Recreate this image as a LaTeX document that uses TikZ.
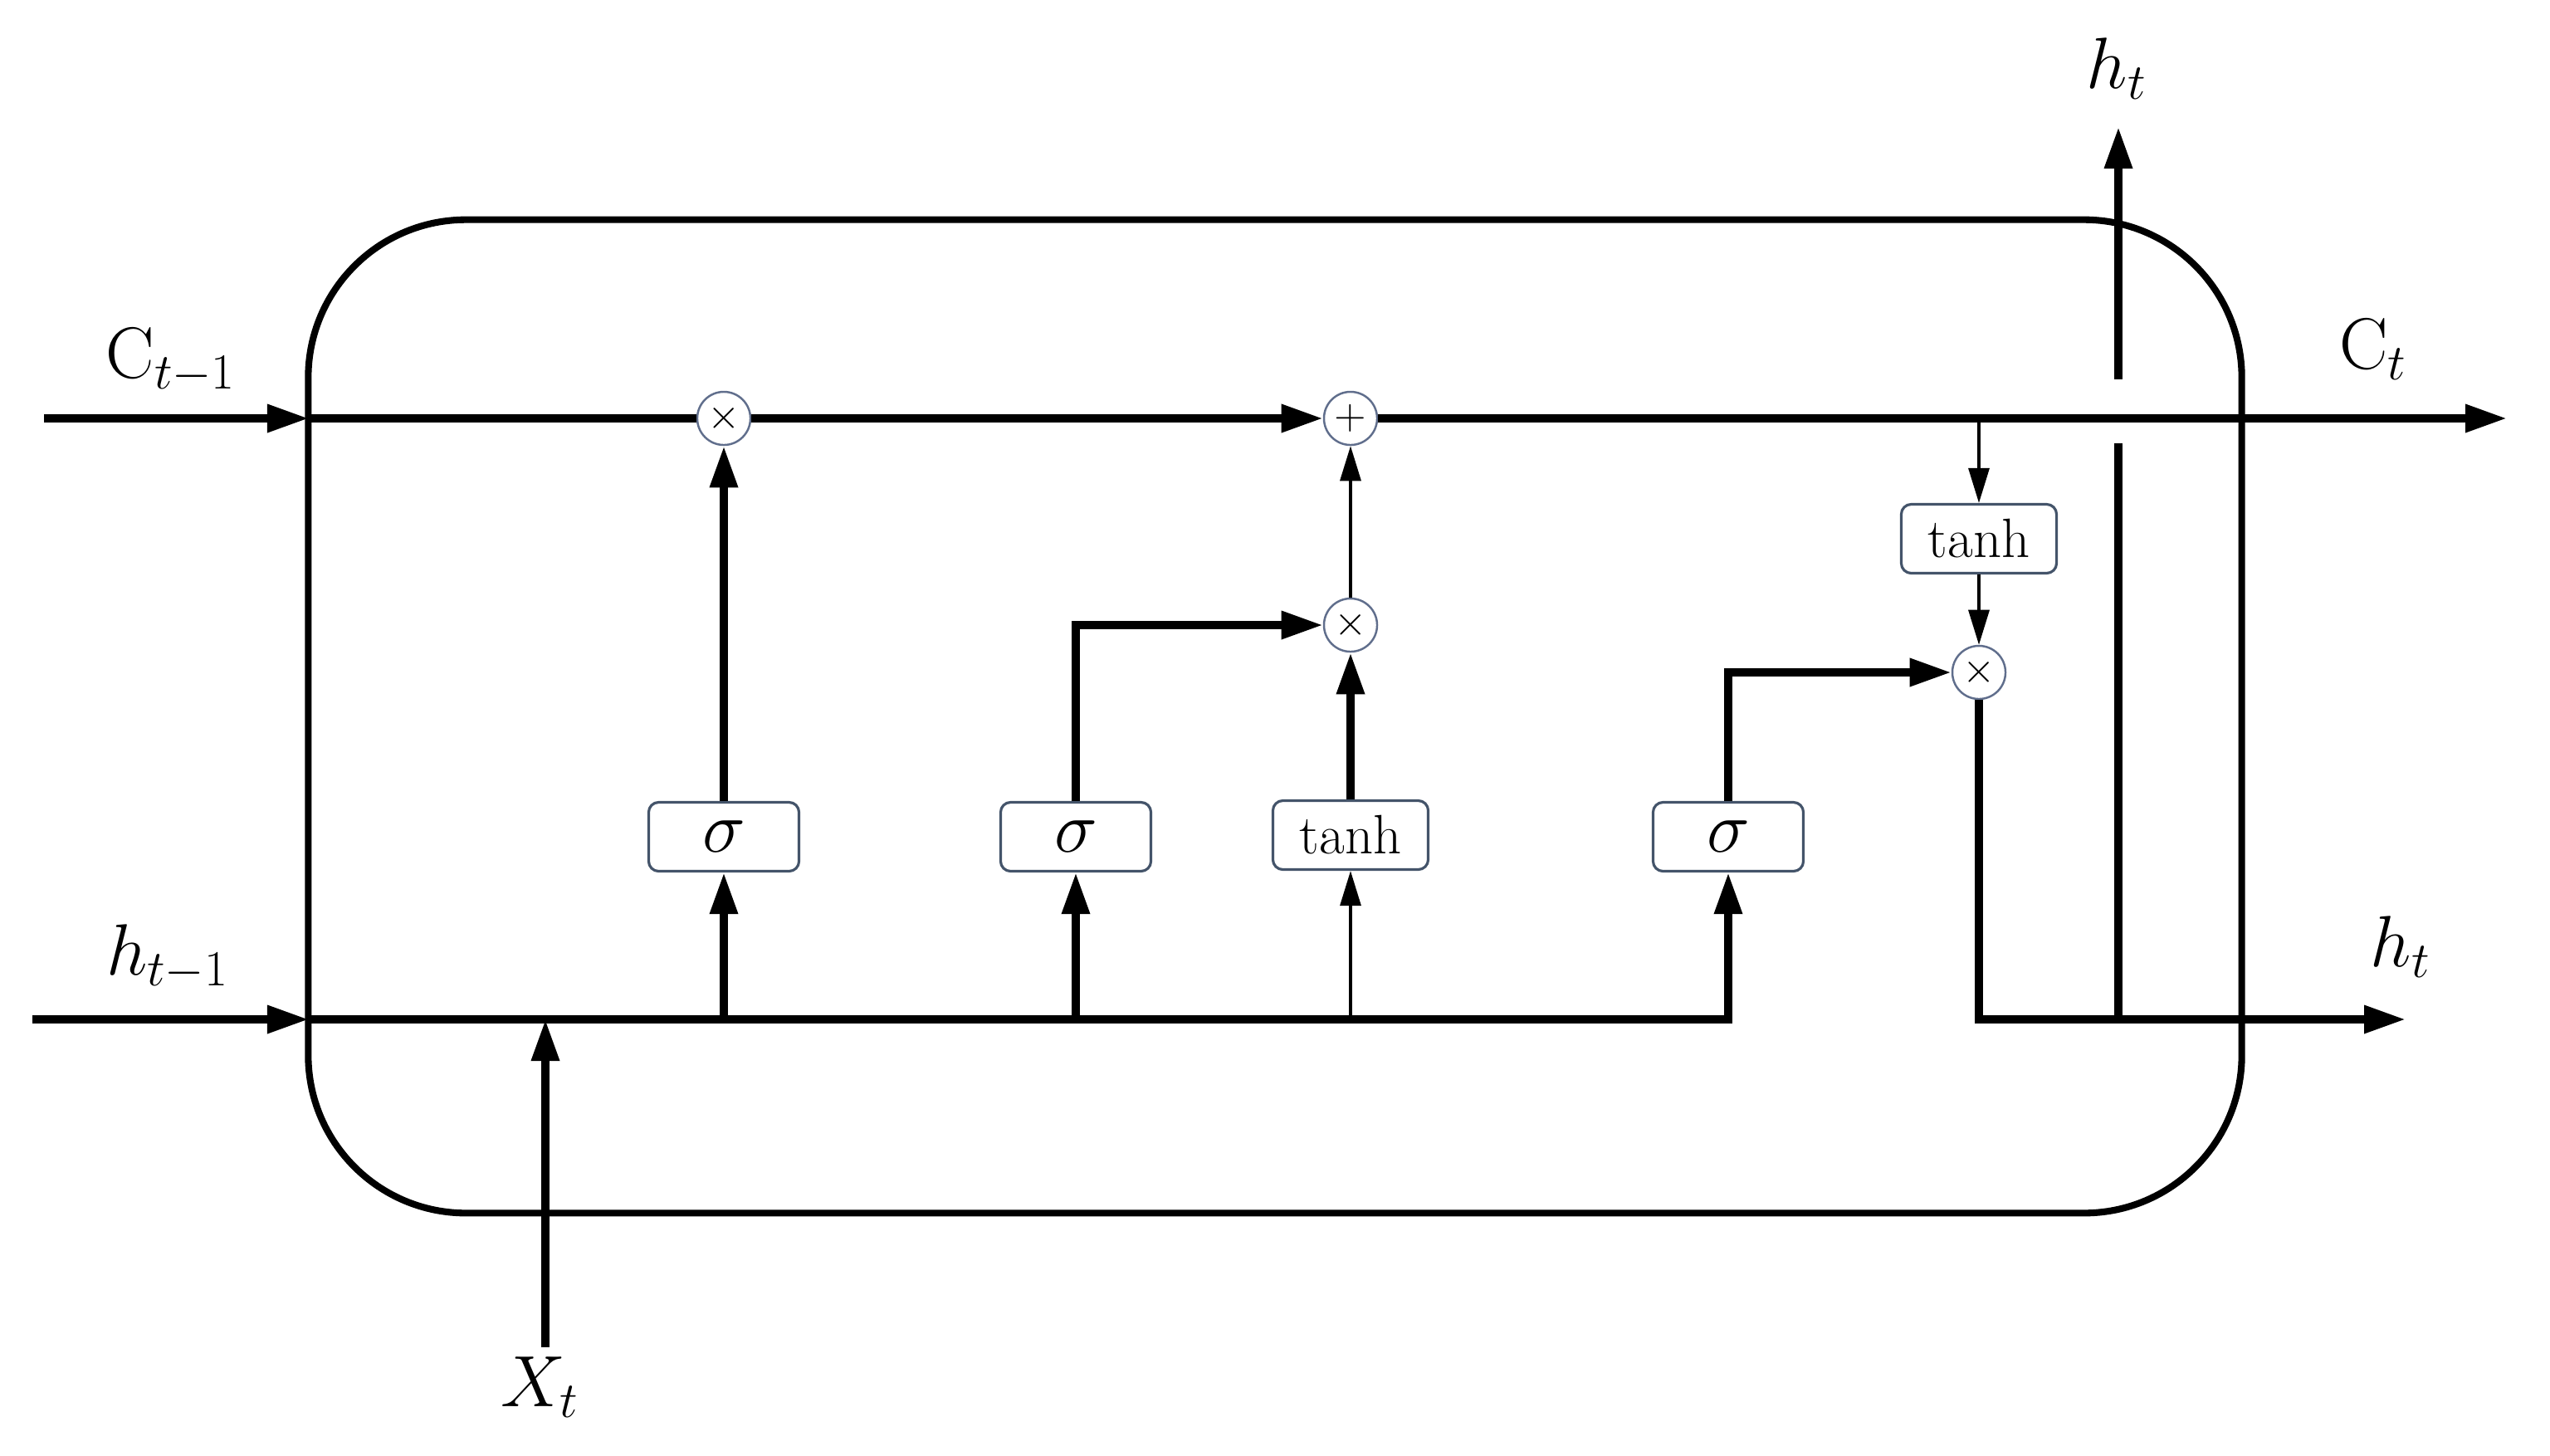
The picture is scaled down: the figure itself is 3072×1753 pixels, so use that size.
\documentclass[tikz,border=0pt]{standalone}
\usetikzlibrary{arrows.meta}
\definecolor{slate}{RGB}{68,84,106}
\definecolor{ring}{RGB}{96,110,140}
\begin{document}
\begin{tikzpicture}[x=0.01cm,y=-0.01cm,
  thk/.style={line width=2.7pt},
  thn/.style={line width=0.9pt},
  tipT/.style={-{Triangle[length=0.5cm,width=0.32cm]}},
  tipt/.style={-{Triangle[length=0.42cm,width=0.25cm]}},
  gate/.style={draw=slate,line width=0.9pt,rounded corners=0.12cm,minimum width=1.81cm,minimum height=0.83cm,inner sep=0pt,fill=white,font=\fontsize{25}{28}\selectfont},
  tgate/.style={gate,minimum width=1.87cm,font=\fontsize{19}{22}\selectfont},
  op/.style={circle,draw=ring,line width=0.7pt,minimum size=0.64cm,inner sep=0pt,fill=white,font=\fontsize{14}{16}\selectfont},
  lab/.style={inner sep=0pt,font=\fontsize{24}{28}\selectfont}
]
\useasboundingbox (0,0) rectangle (3072,1753);
% cell
\node[draw,line width=2.3pt,rounded corners=1.9cm,minimum width=23.28cm,minimum height=11.96cm,inner sep=0pt] (cell) at (1536,863) {};
% operators
\node[op] (m1) at (872,504) {$\times$};
\node[op] (plus) at (1627,504) {$+$};
\node[op] (m2) at (1627,753) {$\times$};
\node[op] (m3) at (2384,810) {$\times$};
% gates
\node[gate] (g1) at (872,1008) {$\sigma$};
\node[gate] (g2) at (1296,1008) {$\sigma$};
\node[tgate] (g3) at (1627,1006) {tanh};
\node[gate] (g4) at (2082,1008) {$\sigma$};
\node[tgate] (tg) at (2384,649) {tanh};
% coordinates
\coordinate (cstart) at (53,504);
\coordinate (cin) at (372,504);
\coordinate (cend) at (3020,504);
\coordinate (hstart) at (39,1228);
\coordinate (hin) at (372,1228);
\coordinate (xin) at (657,1623);
\coordinate (xjoin) at (657,1228);
\coordinate (tapC) at (2384,504);
\coordinate (hup) at (2552,1228);
\coordinate (gaplo) at (2552,534);
\coordinate (gaphi) at (2552,457);
\coordinate (htop) at (2552,153);
\coordinate (hout) at (2898,1228);
% labels
\node[lab] (lc0) at (206,435) {$\mathrm{C}_{t-1}$};
\node[lab] (lh0) at (202,1153) {$h_{t-1}$};
\node[lab] (lc1) at (2859,421) {$\mathrm{C}_{t}$};
\node[lab] (lh1) at (2550,83) {$h_{t}$};
\node[lab] (lh2) at (2892,1141) {$h_{t}$};
\node[lab] (lx) at (651,1671) {$X_{t}$};
% cell state line
\draw[thk,tipT] (cstart) -- (cin);
\draw[thk] (cin) -- (m1.west);
\draw[thk,tipT] (m1.east) -- (plus.west);
\draw[thk,tipT] (plus.east) -- (cend);
% output branch
\draw[thn,tipt] (tapC) -- (tg.north);
\draw[thn,tipt] (tg.south) -- (m3.north);
\draw[thk,tipT] (m3.south) |- (hout);
\draw[thk] (hup) -- (gaplo);
\draw[thk,tipT] (gaphi) -- (htop);
% hidden input bus
\draw[thk,tipT] (hstart) -- (hin);
\draw[thk,tipT] (hin) -| (g4.south);
\draw[thk,tipT] (xin) -- (xjoin);
\draw[thk,tipT] (g1 |- hin) -- (g1.south);
\draw[thk,tipT] (g2 |- hin) -- (g2.south);
\draw[thn,tipt] (g3 |- hin) -- (g3.south);
% gate outputs
\draw[thk,tipT] (g1.north) -- (m1.south);
\draw[thk,tipT] (g2.north) |- (m2.west);
\draw[thk,tipT] (g3.north) -- (m2.south);
\draw[thn,tipt] (m2.north) -- (plus.south);
\draw[thk,tipT] (g4.north) |- (m3.west);
\end{tikzpicture}
\end{document}
